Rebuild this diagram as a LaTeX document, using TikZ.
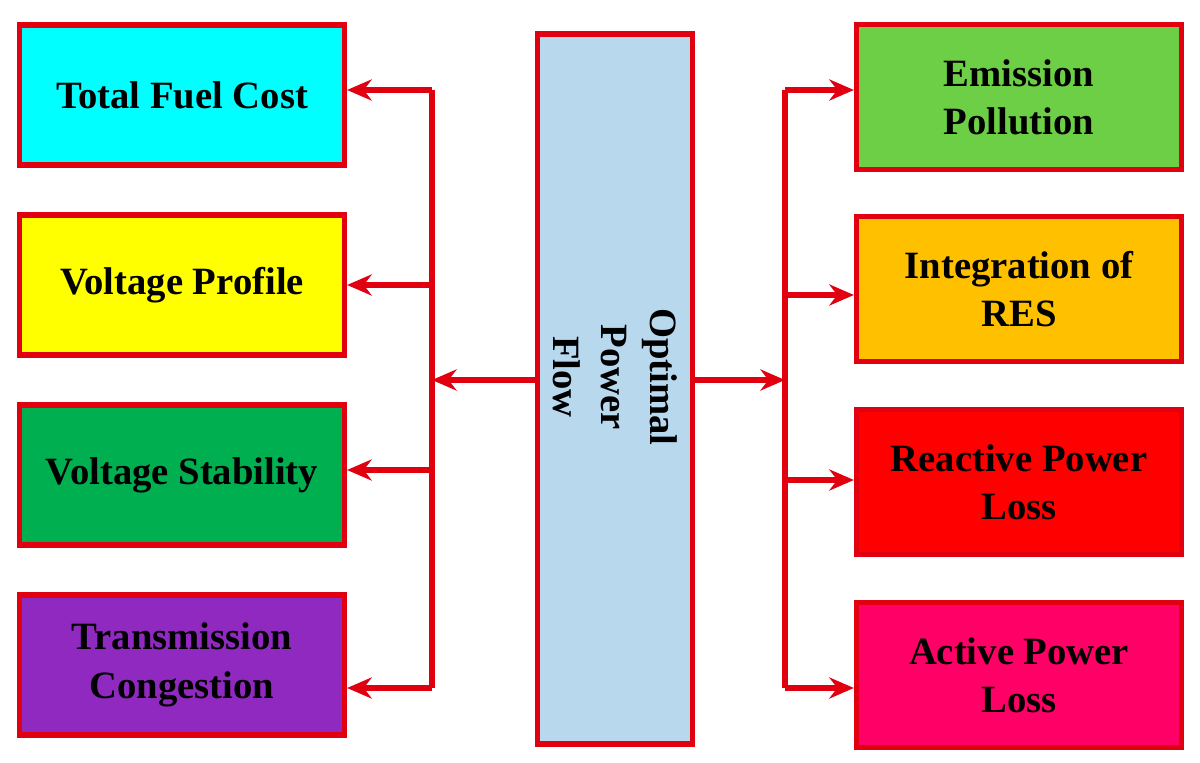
\documentclass[tikz,border=0pt]{standalone}
\usepackage{fontspec}
\setmainfont{Liberation Serif}
\usetikzlibrary{arrows.meta}
\definecolor{bd}{HTML}{E00010}
\definecolor{cy}{HTML}{00FFFF}
\definecolor{ye}{HTML}{FFFF00}
\tikzset{
 tf/.style={font=\fontsize{22}{27.5}\selectfont\bfseries},
 box/.style={draw=bd,line width=3pt,minimum width=6.5cm,minimum height=2.8cm,align=center,tf,inner sep=0pt},
 ln/.style={draw=bd,line width=3pt},
 ar/.style={ln,-{Stealth[length=14pt,width=12pt]}}
}
\begin{document}
\begin{tikzpicture}[x=0.02cm,y=-0.02cm]
\useasboundingbox (0,0) rectangle (1200,763);
\node[box,fill=cy] (l1) at (182,95) {Total Fuel Cost};
\node[box,fill=ye] (l2) at (182,285) {Voltage Profile};
\node[box,fill={rgb,255:red,0;green,176;blue,80}] (l3) at (182,475) {Voltage Stability};
\node[box,fill={rgb,255:red,144;green,41;blue,192}] (l4) at (182,665) {Transmission\\Congestion};
\node[box,fill={rgb,255:red,108;green,207;blue,69},minimum height=2.9cm] (r1) at (1019,97) {Emission\\Pollution};
\node[box,fill={rgb,255:red,255;green,192;blue,0},minimum height=2.9cm] (r2) at (1019,289) {Integration of\\RES};
\node[box,fill=red,minimum height=2.9cm] (r3) at (1019,482) {Reactive Power\\Loss};
\node[box,fill={rgb,255:red,255;green,0;blue,102},minimum height=2.9cm] (r4) at (1019,675) {Active Power\\Loss};
\node[draw=bd,line width=3pt,fill={rgb,255:red,184;green,216;blue,238},minimum width=3.1cm,minimum height=14.2cm,inner sep=0pt] (c) at (615,389) {};
\node[rotate=-90,align=center,tf] (ct) at (615,377) {Optimal\\Power\\Flow};
\coordinate (lb1) at (432,90); \coordinate (lb4) at (432,688);
\coordinate (lm) at (432,380);
\coordinate (rb1) at (785,90); \coordinate (rb4) at (785,688);
\coordinate (rm) at (785,380);
\draw[ln] (lb1) -- (lb4);
\draw[ln] (rb1) -- (rb4);
\draw[ar] (c.west |- lm) -- (lm);
\draw[ar] (c.east |- rm) -- (rm);
\draw[ar] (lb1) -- (l1.east |- lb1);
\draw[ar] (432,285) -- (l2.east |- 0,285);
\draw[ar] (432,470) -- (l3.east |- 0,470);
\draw[ar] (lb4) -- (l4.east |- lb4);
\draw[ar] (rb1) -- (r1.west |- rb1);
\draw[ar] (785,295) -- (r2.west |- 0,295);
\draw[ar] (785,480) -- (r3.west |- 0,480);
\draw[ar] (rb4) -- (r4.west |- rb4);
\end{tikzpicture}
\end{document}
